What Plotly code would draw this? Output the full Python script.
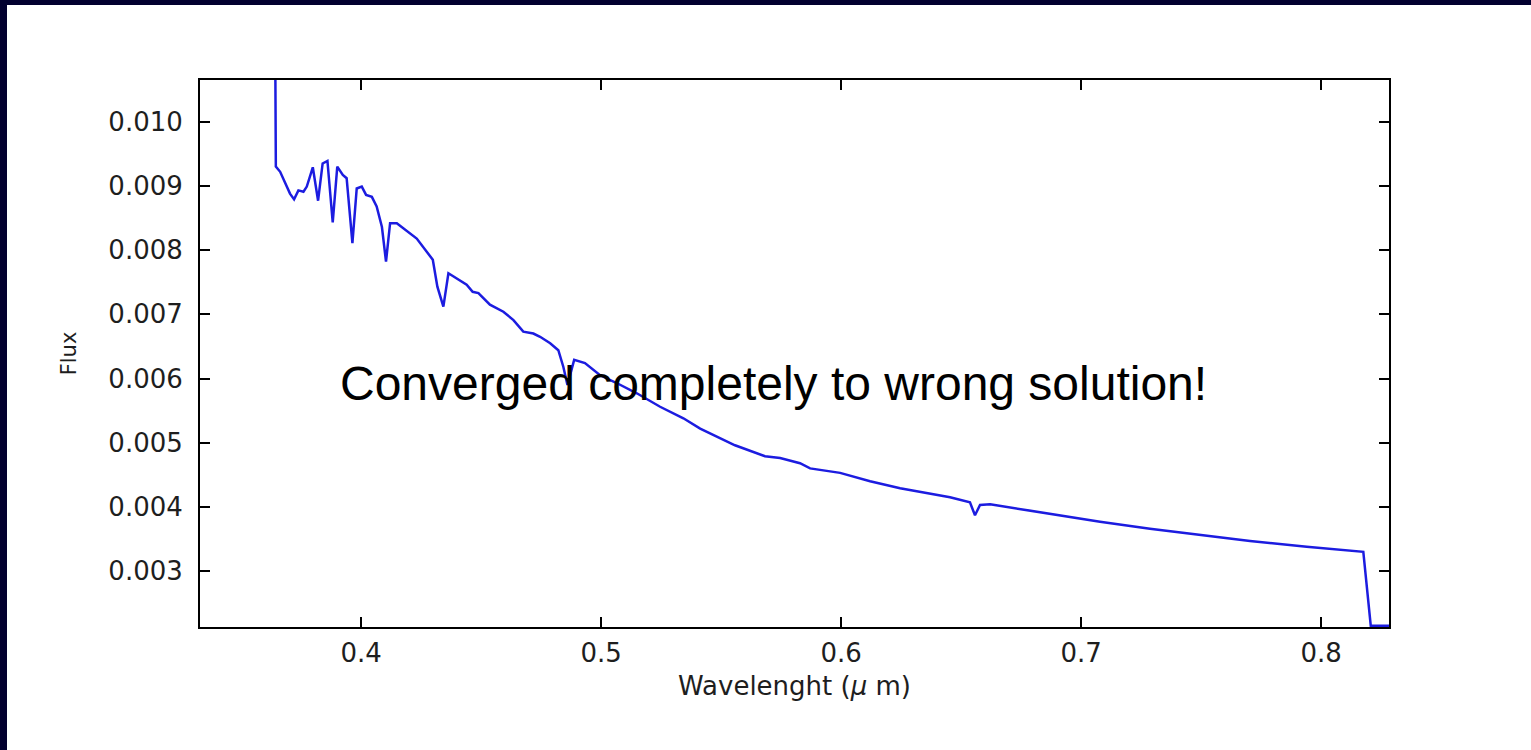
import plotly.graph_objects as go

# Spectrum (wavelength in micron, flux)
wavelength = [0.3642, 0.3645, 0.3663, 0.3704, 0.3721, 0.3739, 0.3760, 0.3774, 0.3799, 0.3821,
              0.3840, 0.3860, 0.3882, 0.3901, 0.3924, 0.3940, 0.3964, 0.3982, 0.4003, 0.4021,
              0.4045, 0.4065, 0.4087, 0.4104, 0.4121, 0.4149, 0.4232, 0.4274, 0.4299, 0.4318,
              0.4343, 0.4364, 0.4399, 0.4440, 0.4465, 0.4489, 0.4537, 0.4593, 0.4635, 0.4655,
              0.4676, 0.4718, 0.4746, 0.4788, 0.4822, 0.4843, 0.4860, 0.4888, 0.4913, 0.4933,
              0.4996, 0.5065, 0.5149, 0.5246, 0.5343, 0.5413, 0.5558, 0.5683, 0.5746, 0.5829,
              0.5871, 0.5996, 0.6121, 0.6246, 0.6454, 0.6537, 0.6558, 0.6579, 0.6621, 0.6871,
              0.7079, 0.7287, 0.7496, 0.7704, 0.7940, 0.8176, 0.8207, 0.8283]
flux = [0.01150, 0.00930, 0.00922, 0.00888, 0.00879, 0.00893, 0.00891, 0.00899, 0.00929, 0.00877,
        0.00935, 0.00939, 0.00843, 0.00930, 0.00917, 0.00912, 0.00811, 0.00896, 0.00899, 0.00886,
        0.00883, 0.00868, 0.00836, 0.00782, 0.00842, 0.00842, 0.00818, 0.00798, 0.00785, 0.00743,
        0.00712, 0.00764, 0.00756, 0.00746, 0.00735, 0.00733, 0.00715, 0.00704, 0.00691, 0.00683,
        0.00673, 0.00670, 0.00665, 0.00655, 0.00644, 0.00618, 0.00590, 0.00629, 0.00626, 0.00624,
        0.00605, 0.00593, 0.00577, 0.00556, 0.00538, 0.00522, 0.00496, 0.00479, 0.00476, 0.00468,
        0.00460, 0.00453, 0.00440, 0.00429, 0.00415, 0.00407, 0.00387, 0.00403, 0.00404, 0.00389,
        0.00377, 0.00366, 0.00356, 0.00347, 0.00338, 0.00330, 0.00215, 0.00215]

x_ticks = [0.4, 0.5, 0.6, 0.7, 0.8]
x_tick_labels = ["0.4", "0.5", "0.6", "0.7", "0.8"]
y_ticks = [0.003, 0.004, 0.005, 0.006, 0.007, 0.008, 0.009, 0.010]
y_tick_labels = ["0.003", "0.004", "0.005", "0.006", "0.007", "0.008", "0.009", "0.010"]

W, H = 1531, 750
L, T, R, B = 200, 80, 142, 123
pw, ph = W - L - R, H - T - B

def px_x(p):
    return (p - L) / pw

def px_y(p):
    return (H - B - p) / ph

fig = go.Figure()
fig.add_trace(go.Scatter(x=wavelength, y=flux, mode="lines",
                         line=dict(color="#1c1ce0", width=2.5), showlegend=False,
                         hoverinfo="skip"))

axis_font = dict(family="DejaVu Sans", size=26, color="#1e1e1e")

fig.update_layout(
    width=W, height=H,
    margin=dict(l=L, r=R, t=T, b=B, pad=0),
    paper_bgcolor="white", plot_bgcolor="white",
    font=dict(family="DejaVu Sans", color="#1e1e1e"),
    xaxis=dict(range=[0.3329, 0.8283], tickvals=x_ticks, ticktext=x_tick_labels,
               ticks="inside", ticklen=10, tickwidth=1.5, tickcolor="black",
               showline=True, linecolor="black", linewidth=2, mirror="ticks",
               showgrid=False, zeroline=False, tickfont=axis_font,
               ticklabelstandoff=2,
               title=dict(text="Wavelenght (<i>μ</i> m)", font=axis_font, standoff=10)),
    yaxis=dict(range=[0.002129, 0.01065], tickvals=y_ticks, ticktext=y_tick_labels,
               ticks="inside", ticklen=10, tickwidth=1.5, tickcolor="black",
               showline=True, linecolor="black", linewidth=2, mirror="ticks",
               showgrid=False, zeroline=False, tickfont=axis_font,
               ticklabelstandoff=10,
               title=dict(text="Flux", font=dict(family="DejaVu Sans", size=21, color="#1e1e1e"),
                          standoff=26)),
    annotations=[dict(text="Converged completely to wrong solution!",
                      xref="paper", yref="paper", x=px_x(773), y=px_y(383),
                      xanchor="center", yanchor="middle", showarrow=False,
                      font=dict(family="Liberation Sans", size=48, color="black"))],
    shapes=[
        dict(type="rect", xref="paper", yref="paper", layer="above",
             x0=px_x(-5), x1=px_x(7), y0=px_y(760), y1=px_y(-5),
             fillcolor="#02002f", line=dict(width=0)),
        dict(type="rect", xref="paper", yref="paper", layer="above",
             x0=px_x(-5), x1=px_x(1540), y0=px_y(5), y1=px_y(-5),
             fillcolor="#02002f", line=dict(width=0)),
    ],
)

fig.write_html("out.html")
